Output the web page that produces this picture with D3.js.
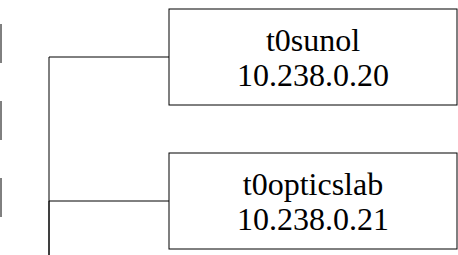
<!DOCTYPE html>
<html>
<head>
<meta charset="utf-8">
<script src="https://cdn.jsdelivr.net/npm/d3@7"></script>
<style>
  html, body { margin: 0; padding: 0; background: #fff; }
  svg { display: block; }
  .node text { font-family: "Liberation Serif", "Times New Roman", serif; }
</style>
</head>
<body>
<div id="chart"></div>
<script>
// visible child nodes of the tree
let hosts = ["t0sunol", "t0opticslab"];
let addresses = ["10.238.0.20", "10.238.0.21"];

// edges of the column cut off at the left side
let leftStubs = [0, 1, 2, 3];

let width = 458,
    height = 255;

// columns: left column edge, trunk line, child boxes
let col = d3.scaleOrdinal()
  .domain(["edge", "trunk", "box"])
  .range([1, 49, 169]);
let boxWidth = 288;

// rows of the child boxes
let y = d3.scaleBand()
  .domain(hosts)
  .range([9, 249])
  .paddingInner(1 / 3)
  .paddingOuter(0);

// rows of the stubs on the left
let yStub = d3.scaleBand()
  .domain(leftStubs)
  .range([24, 294])
  .paddingInner(38 / 77)
  .paddingOuter(0);

let svg = d3.select("#chart").append("svg")
    .attr("width", width)
    .attr("height", height);

// left stubs
svg.selectAll(".stub")
    .data(leftStubs)
  .enter()
    .append("line")
      .attr("class", "stub")
      .attr("x1", col("edge"))
      .attr("x2", col("edge"))
      .attr("y1", d => yStub(d))
      .attr("y2", d => yStub(d) + yStub.bandwidth())
      .attr("stroke", "#000")
      .attr("stroke-width", 1);

// elbow links, coming up from the parent below
svg.selectAll(".link")
    .data(hosts)
  .enter()
    .append("path")
      .attr("class", "link")
      .attr("fill", "none")
      .attr("stroke", "#000")
      .attr("stroke-width", 1)
      .attr("d", d => {
        let cy = y(d) + y.bandwidth() / 2;
        return "M" + col("trunk") + "," + (height + 10) +
               "V" + cy + "H" + col("box");
      });

// boxes
let node = svg.selectAll(".node")
    .data(hosts)
  .enter()
    .append("g")
      .attr("class", "node")
      .attr("transform", d => "translate(" + col("box") + "," + y(d) + ")");

node.append("rect")
    .attr("width", boxWidth)
    .attr("height", y.bandwidth())
    .attr("fill", "#fff")
    .attr("stroke", "#000")
    .attr("stroke-width", 1);

let label = node.append("text")
    .attr("text-anchor", "middle")
    .attr("font-size", 32)
    .attr("fill", "#000");

label.append("tspan")
    .attr("x", boxWidth / 2)
    .attr("y", y.bandwidth() / 2 - 6)
    .text(d => d);

label.append("tspan")
    .attr("x", boxWidth / 2)
    .attr("y", y.bandwidth() / 2 + 29)
    .text((d, i) => addresses[i]);
</script>
</body>
</html>
